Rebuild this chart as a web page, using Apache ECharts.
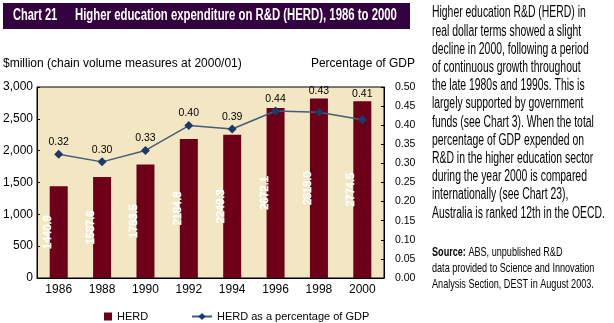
<!DOCTYPE html>
<html>
<head>
<meta charset="utf-8">
<script src="https://cdn.jsdelivr.net/npm/echarts@6/dist/echarts.min.js"></script>
<style>
html,body{margin:0;padding:0;background:#fff;}
#chart{width:614px;height:323px;}
</style>
</head>
<body>
<div id="chart"></div>
<script>
const years = ['1986', '1988', '1990', '1992', '1994', '1996', '1998', '2000'];
const herd = [1440.9, 1587.6, 1783.5, 2184.8, 2249.3, 2672.1, 2818.0, 2774.5];
const herdPct = [0.324, 0.304, 0.334, 0.399, 0.390, 0.437, 0.434, 0.414];
const leftAxisRange = [0, 3000, 500];
const rightAxisRange = [0, 0.5, 0.05];
const titleLabel = 'Chart 21';
const titleText = 'Higher education expenditure on R&D (HERD), 1986 to 2000';
const leftAxisName = '$million (chain volume measures at 2000/01)';
const rightAxisName = 'Percentage of GDP';
const seriesNames = ['HERD', 'HERD as a percentage of GDP'];
const noteLines = [
  'Higher education R&D (HERD) in',
  'real dollar terms showed a slight',
  'decline in 2000, following a period',
  'of continuous growth throughout',
  'the late 1980s and 1990s. This is',
  'largely supported by government',
  'funds (see Chart 3). When the total',
  'percentage of GDP expended on',
  'R&D in the higher education sector',
  'during the year 2000 is compared',
  'internationally (see Chart 23),',
  'Australia is ranked 12th in the OECD.'
];
const sourceLines = [
  '{b|Source:} ABS, unpublished R&D',
  'data provided to Science and Innovation',
  'Analysis Section, DEST in August 2003.'
];

const FONT = '"Liberation Sans", Arial, sans-serif';
const chart = echarts.init(document.getElementById('chart'), null, {renderer: 'canvas'});

const graphics = [
  {type: 'rect', left: 3, top: 3, shape: {width: 407, height: 26}, style: {fill: '#330040'}, silent: true},
  {type: 'text', x: 13, y: 16, scaleX: 0.69, style: {text: titleLabel, fill: '#fff', font: 'bold 16px ' + FONT, textVerticalAlign: 'middle'}},
  {type: 'text', x: 75, y: 16, scaleX: 0.71, style: {text: titleText, fill: '#fff', font: 'bold 16px ' + FONT, textVerticalAlign: 'middle'}},
  {type: 'text', x: 3, y: 64, style: {text: leftAxisName, fill: '#000', font: '12px ' + FONT, textVerticalAlign: 'middle'}},
  {type: 'text', x: 415, y: 64, style: {text: rightAxisName, fill: '#000', font: '12px ' + FONT, textVerticalAlign: 'middle', textAlign: 'right'}}
];
noteLines.forEach(function (line, i) {
  graphics.push({type: 'text', x: 432, y: 13 + i * 18.2, scaleX: 0.65,
    style: {text: line, fill: '#000', font: '16px ' + FONT, textVerticalAlign: 'middle'}});
});
sourceLines.forEach(function (line, i) {
  graphics.push({type: 'text', x: 432, y: 252 + i * 16, scaleX: 0.7,
    style: {text: line, fill: '#000', font: '13px ' + FONT, textVerticalAlign: 'middle',
      rich: {b: {fontWeight: 'bold', fontSize: 13, fontFamily: FONT}}}});
});

const option = {
  animation: false,
  textStyle: {fontFamily: FONT},
  grid: {left: 37, right: 230, top: 87, bottom: 45, show: true, backgroundColor: '#f3e6c2', borderColor: '#000', borderWidth: 1},
  legend: [
    {data: [seriesNames[0]], left: 99, top: 306, icon: 'rect', itemWidth: 8, itemHeight: 8, itemGap: 5,
      textStyle: {fontSize: 11, color: '#000', fontFamily: FONT}},
    {data: [seriesNames[1]], left: 186, top: 306, itemWidth: 20, itemHeight: 9,
      textStyle: {fontSize: 11, color: '#000', fontFamily: FONT}}
  ],
  xAxis: {
    type: 'category', data: years, boundaryGap: true,
    axisLine: {lineStyle: {color: '#000', width: 1}},
    axisTick: {inside: true, length: 4, lineStyle: {color: '#000'}},
    axisLabel: {color: '#000', fontSize: 12, margin: 6, fontFamily: FONT}
  },
  yAxis: [
    {type: 'value', min: leftAxisRange[0], max: leftAxisRange[1], interval: leftAxisRange[2],
      axisLine: {show: true, lineStyle: {color: '#000'}},
      axisTick: {show: true, inside: true, length: 3, lineStyle: {color: '#000'}},
      splitLine: {show: false},
      axisLabel: {color: '#000', fontSize: 12, margin: 4, fontFamily: FONT,
        formatter: function (v) { return v.toLocaleString('en-US'); }}},
    {type: 'value', min: rightAxisRange[0], max: rightAxisRange[1], interval: rightAxisRange[2], position: 'right',
      axisLine: {show: true, lineStyle: {color: '#000'}},
      axisTick: {show: true, inside: true, length: 3, lineStyle: {color: '#000'}},
      splitLine: {show: false},
      axisLabel: {color: '#000', fontSize: 10.5, margin: 11, fontFamily: FONT,
        formatter: function (v) { return v.toFixed(2); }}}
  ],
  series: [
    {name: seriesNames[0], type: 'bar', data: herd, barWidth: 18, yAxisIndex: 0, z: 2,
      itemStyle: {color: '#6c0019'},
      label: {show: true, position: 'inside', rotate: 90, offset: [0, -11], color: '#ffffff', fontSize: 11, fontFamily: FONT,
        textBorderWidth: 0.6, textBorderColor: '#ffffff', textShadowBlur: 0, opacity: 1,
        formatter: function (p) { return p.value.toFixed(1); }}},
    {name: seriesNames[1], type: 'line', data: herdPct, yAxisIndex: 1, z: 3,
      symbol: 'diamond', symbolSize: 9,
      lineStyle: {color: '#425d7c', width: 1.5},
      itemStyle: {color: '#1b3a68'},
      label: {show: true, position: 'top', distance: 2, color: '#000', fontSize: 10.5, fontFamily: FONT,
        formatter: function (p) { return p.value.toFixed(2); }}}
  ],
  graphic: graphics
};
chart.setOption(option);

// Lift the percentage labels above the bar tops where a bar rises above the point
const pctData = herdPct.map(function (v, i) {
  const barTop = chart.convertToPixel({yAxisIndex: 0}, herd[i]);
  const pt = chart.convertToPixel({yAxisIndex: 1}, v);
  const need = pt - 4.5 - 2 - barTop;
  if (need > 0) {
    return {value: v, label: {offset: [0, -(need + 2)]}};
  }
  return v;
});
chart.setOption({series: [{}, {data: pctData}]});
</script>
</body>
</html>
